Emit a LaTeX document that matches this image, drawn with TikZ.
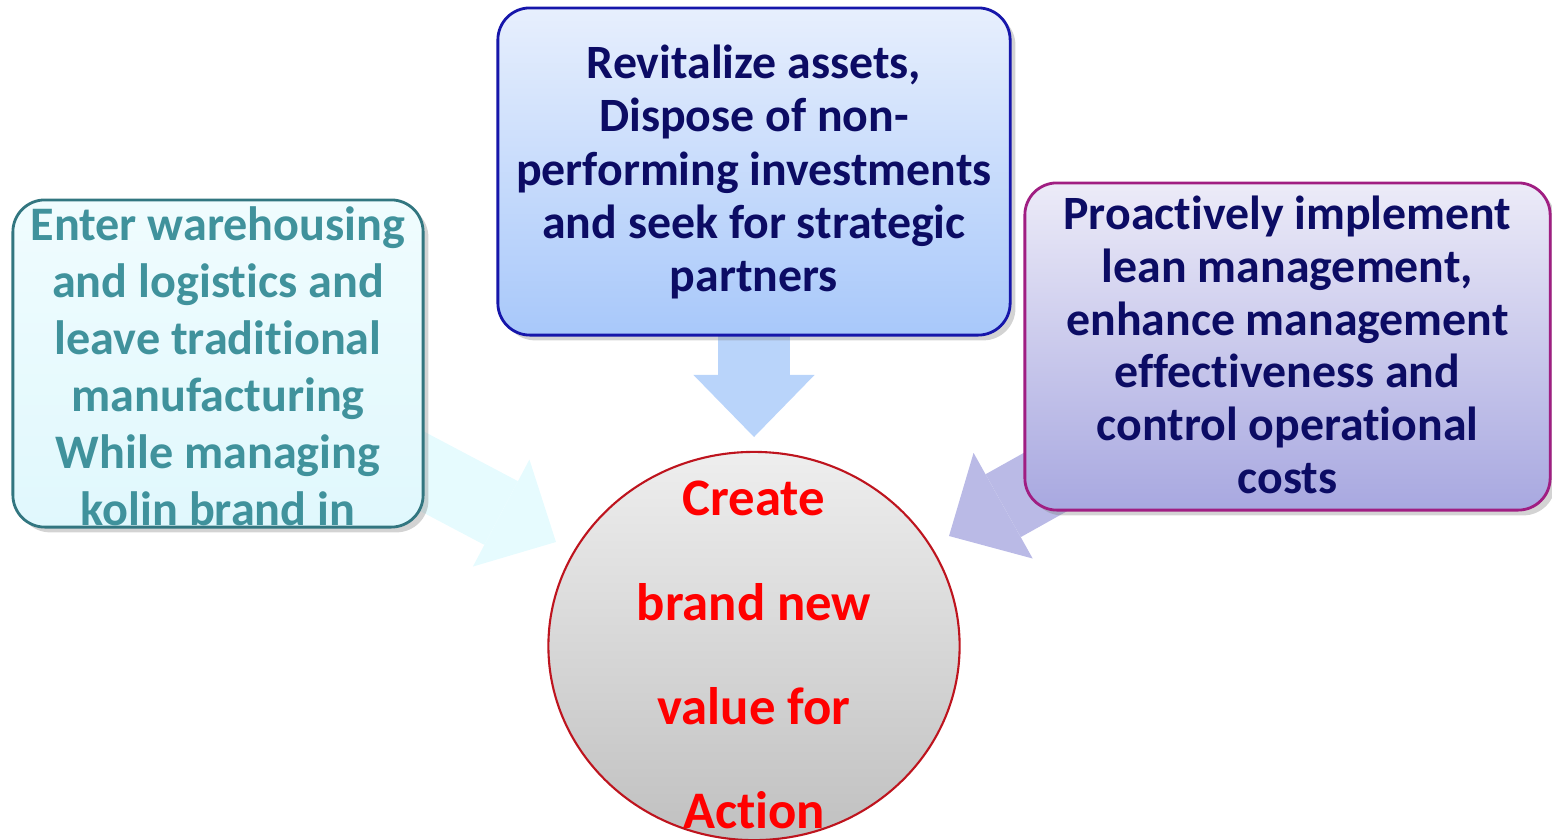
\documentclass[tikz,border=0pt]{standalone}
\usepackage{fontspec}
\setmainfont{Carlito}[Ligatures=NoCommon]
\usetikzlibrary{arrows.meta,shapes.geometric,shadows}
\definecolor{navytext}{RGB}{12,12,100}
\definecolor{tealtext}{RGB}{64,146,156}
\definecolor{redtext}{RGB}{255,0,0}
\definecolor{topfillA}{RGB}{231,239,253}
\definecolor{topfillB}{RGB}{168,200,250}
\definecolor{topline}{RGB}{22,22,170}
\definecolor{leftfillA}{RGB}{240,252,254}
\definecolor{leftfillB}{RGB}{224,248,253}
\definecolor{leftline}{RGB}{50,118,128}
\definecolor{rightfillA}{RGB}{236,235,248}
\definecolor{rightfillB}{RGB}{168,168,224}
\definecolor{rightline}{RGB}{160,30,130}
\definecolor{circA}{RGB}{238,238,238}
\definecolor{circB}{RGB}{192,192,192}
\definecolor{circline}{RGB}{190,20,30}
\definecolor{arrowL}{RGB}{230,251,254}
\definecolor{arrowT}{RGB}{185,212,250}
\definecolor{arrowR}{RGB}{186,186,230}
\tikzset{
  box/.style={rectangle, rounded corners=0.32cm, line width=0.8pt, align=center,
    inner sep=0pt, font=\bfseries,
    drop shadow={shadow xshift=1.5pt, shadow yshift=-1.5pt, opacity=0.35}},
  bigarrow/.style={line width=0.72cm, line cap=butt,
    -{Triangle[width=1.21cm,length=0.62cm,line width=0pt]}},
}
\begin{document}
\begin{tikzpicture}[x=0.01cm,y=-0.01cm]
\useasboundingbox (0,0) rectangle (1552,839);
% anchor points
\coordinate (ltip) at (556,542);
\coordinate (ttip) at (754,437);
\coordinate (rtip) at (949,536);
\coordinate (lc) at (218,363.5);
\coordinate (tc) at (754,171.5);
\coordinate (rc) at (1287.5,346.5);
% arrows (behind boxes)
\draw[bigarrow, arrowL] (lc) -- (ltip);
\draw[bigarrow, arrowT] (tc) -- (ttip);
\draw[bigarrow, arrowR] (rc) -- (rtip);
% boxes
\node[box, draw=leftline, top color=leftfillA, bottom color=leftfillB,
  minimum width=4.10cm, minimum height=3.27cm] (lbox) at (lc) {};
\node[font=\bfseries\fontsize{13.7}{16.2}\selectfont, text=tealtext, align=center] (ltext) at (218,366)
  {Enter warehousing\\and logistics and\\leave traditional\\manufacturing\\While managing\\kolin brand in};
\node[box, draw=topline, top color=topfillA, bottom color=topfillB,
  minimum width=5.12cm, minimum height=3.27cm] (tbox) at (tc) {};
\node[font=\bfseries\fontsize{13.6}{15.1}\selectfont, text=navytext, align=center] (ttext) at (754,172)
  {Revitalize assets,\\Dispose of non-\\performing investments\\and seek for strategic\\partners};
\node[box, draw=rightline, top color=rightfillA, bottom color=rightfillB,
  minimum width=5.25cm, minimum height=3.27cm] (rbox) at (rc) {};
\node[font=\bfseries\fontsize{13.6}{15}\selectfont, text=navytext, align=center] (rtext) at (1287.5,345)
  {Proactively implement\\lean management,\\enhance management\\effectiveness and\\control operational\\costs};
% circle
\node[ellipse, draw=circline, line width=0.6pt, top color=circA, bottom color=circB,
  minimum width=4.11cm, minimum height=3.88cm, inner sep=0pt] (circ) at (754,646) {};
\node[font=\bfseries\fontsize{15}{29.6}\selectfont, text=redtext, align=center] (ctext) at (754,655)
  {Create\\brand new\\value for\\Action};
\end{tikzpicture}
\end{document}
